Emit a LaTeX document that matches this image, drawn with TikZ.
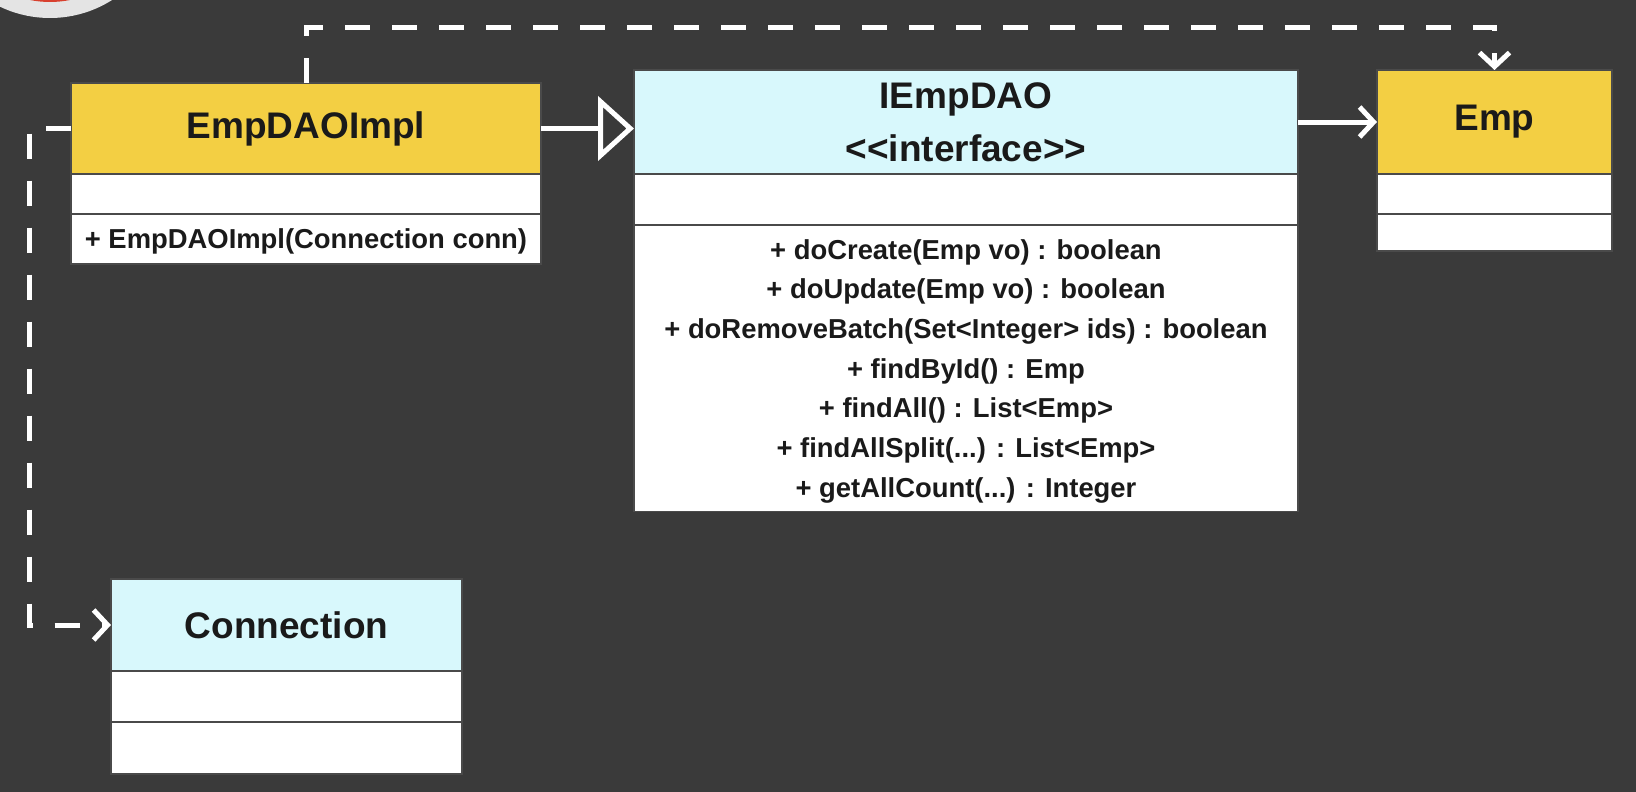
\documentclass[tikz,border=0pt]{standalone}
\usepackage{fontspec}
\setmainfont{Liberation Sans}
\usetikzlibrary{arrows.meta, positioning}

\definecolor{bgdark}{HTML}{3A3A3A}
\definecolor{classyellow}{HTML}{F3CF43}
\definecolor{ifacecyan}{HTML}{D8F8FC}
\definecolor{boxline}{HTML}{4A4A4A}
\definecolor{textdark}{HTML}{1A1A1A}
\definecolor{logoring}{HTML}{E4E4E4}
\definecolor{logored}{HTML}{D8402E}

\begin{document}
\begin{tikzpicture}[
    x=1pt, y=-1pt,
    header/.style={rectangle, draw=boxline, line width=1.2pt, text=textdark, font=\fontsize{37}{53}\selectfont\bfseries, align=center, inner sep=0pt, outer sep=0pt},
    compart/.style={rectangle, draw=boxline, line width=1.2pt, fill=white, text=textdark, font=\fontsize{27.4}{39.7}\selectfont\bfseries, align=center, inner sep=0pt, outer sep=0pt, text depth=0pt},
    link/.style={draw=white, line width=5pt},
    realize/.style={link, -{Triangle[open, length=36pt, width=64pt]}},
    assoc/.style={link, -{Straight Barb[length=14pt, width=30pt]}},
    dep/.style={link, dash pattern=on 25pt off 22pt, -{Straight Barb[length=14pt, width=30pt]}}
]

% =================== BACKGROUND ===================
\useasboundingbox (0,0) rectangle (1636,792);
\fill[bgdark] (0,0) rectangle (1636,792);
\clip (0,0) rectangle (1636,792);

% logo, cut off at the top
\fill[logoring] (50,-98) circle (116);
\fill[logored] (50,-98) circle (100);


% =================== EmpDAOImpl ===================
\node[header, fill=classyellow, minimum width=470pt, minimum height=91pt] (impl) at (306,128.5) {EmpDAOImpl};
\node[compart, minimum width=470pt, minimum height=40pt, below=0pt of impl] (implattr) {};
\node[compart, minimum width=470pt, minimum height=50pt, below=0pt of implattr] (implops)
    {+ EmpDAOImpl(Connection conn)};


% =================== IEmpDAO ===================
\node[header, fill=ifacecyan, minimum width=664pt, minimum height=104pt] (dao) at (966,122)
{
    IEmpDAO\\
    <\kern0pt<interface>\kern0pt>
};
\node[compart, minimum width=664pt, minimum height=51pt, below=0pt of dao] (daoattr) {};
\node[compart, minimum width=664pt, minimum height=286.5pt, below=0pt of daoattr] (daoops)
{
    + doCreate(Emp vo) : boolean\\
    + doUpdate(Emp vo) : boolean\\
    + doRemoveBatch(Set<Integer> ids) : boolean\\
    + findById() : Emp\\
    + findAll() : List<Emp>\\
    + findAllSplit(...) : List<Emp>\\
    + getAllCount(...) : Integer
};


% =================== Emp ===================
\node[header, fill=classyellow, minimum width=235pt, minimum height=104pt] (emp) at (1494.5,122) {Emp};
\node[compart, minimum width=235pt, minimum height=40pt, below=0pt of emp] (empattr) {};
\node[compart, minimum width=235pt, minimum height=37pt, below=0pt of empattr] (empops) {};


% =================== Connection ===================
\node[header, fill=ifacecyan, minimum width=351pt, minimum height=92pt] (conn) at (286.5,625) {Connection};
\node[compart, minimum width=351pt, minimum height=51pt, below=0pt of conn] (connattr) {};
\node[compart, minimum width=351pt, minimum height=52pt, below=0pt of connattr] (connops) {};


% =================== CONNECTORS ===================
\draw[realize] (impl.east) -- (impl.east -| dao.west);
\draw[assoc] (dao.east) -- (emp.west);

\draw[dep] (impl.north) -- ++(0,-55) -| (emp.north);
\draw[dep] (impl.west) -- ++(-42,0) |- (conn.west);

\end{tikzpicture}
\end{document}
